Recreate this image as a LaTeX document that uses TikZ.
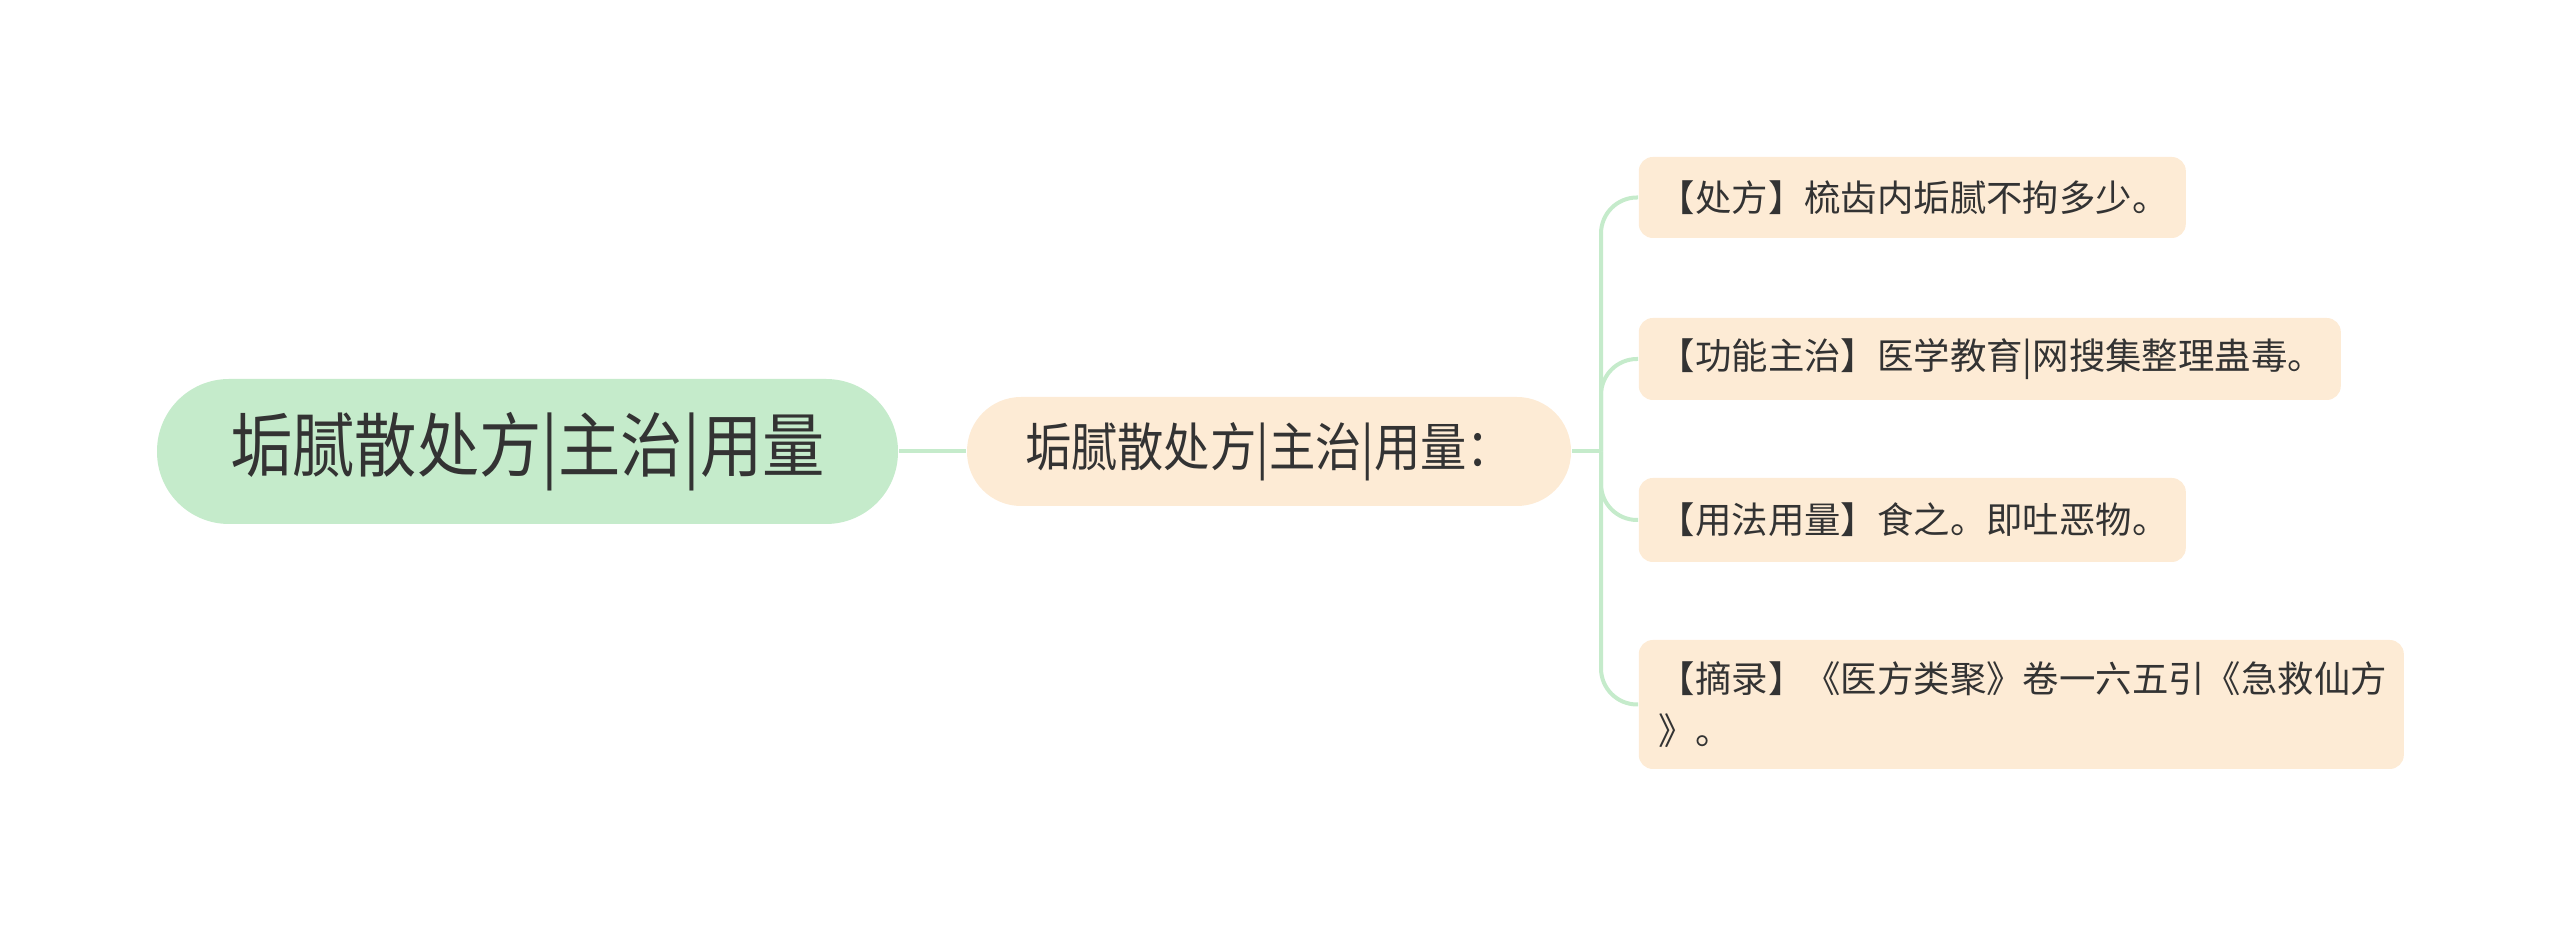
\documentclass[tikz,border=0pt]{standalone}
\usepackage{fontspec}
\newfontfamily\cjk{Noto Sans CJK SC}
\newfontfamily\cjknarrow[FakeStretch=0.89]{Noto Sans CJK SC}
\usetikzlibrary{positioning}
\definecolor{rootgreen}{HTML}{C5EBCB}
\definecolor{leafpeach}{HTML}{FDEBD5}
\definecolor{linegreen}{HTML}{C5EBCB}
\definecolor{inktext}{HTML}{333333}

\begin{document}
\begin{tikzpicture}[x=0.25pt,y=-0.25pt,
                rootbox/.style={
                  fill=rootgreen, text=inktext, rounded corners=18pt,
                  minimum width=185.25pt, minimum height=36.25pt,
                  font=\cjknarrow\fontsize{17.5pt}{21pt}\selectfont
                },
                midbox/.style={
                  fill=leafpeach, text=inktext, rounded corners=13.5pt,
                  minimum width=151pt, minimum height=27.25pt,
                  font=\cjknarrow\fontsize{13pt}{16pt}\selectfont
                },
                leafbox/.style={
                  fill=leafpeach, text=inktext, rounded corners=3.5pt,
                  anchor=west, align=left, inner xsep=5pt, text width=#1,
                  font=\cjk\fontsize{9.1pt}{13pt}\selectfont
                },
                branch/.style={draw=linegreen, line width=1pt}
                ]
                \useasboundingbox (0,0) rectangle (2560,927);
                \node [rootbox] (root) at (527.5,451.5) {垢腻散处方|主治|用量};
                \node [midbox] (mid) at (1269,451.5) {垢腻散处方|主治|用量：};
                \node [leafbox=126.75pt, minimum height=20.25pt] (l1) at (1638,197.5) {【处方】梳齿内垢腻不拘多少。};
                \node [leafbox=165.5pt, minimum height=20.5pt] (l2) at (1638,359) {【功能主治】医学教育|网搜集整理蛊毒。};
                \node [leafbox=126.75pt, minimum height=21pt] (l3) at (1638,520) {【用法用量】食之。即吐恶物。};
                \node [leafbox=181.25pt, minimum height=32.25pt] (l4) at (1638,704.5) {【摘录】《医方类聚》卷一六五引《急救仙方\\》。};
                \coordinate (fork) at (1601,451.5);
                % connectors
                \draw [branch] (root.east) -- (mid.west);
                \draw [branch] (mid.east) -- (fork);
                \foreach \leaf in {l1,l2,l3,l4} {
                  \draw [branch, rounded corners=9pt] (fork) |- (\leaf.west);
                }
\end{tikzpicture}
\end{document}
